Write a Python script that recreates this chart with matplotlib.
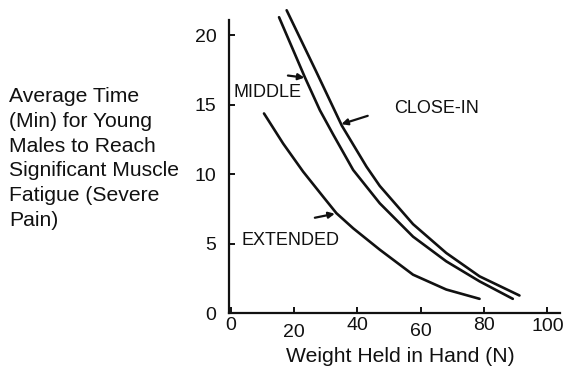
import matplotlib
matplotlib.use("Agg")
import matplotlib.pyplot as plt
from matplotlib.transforms import ScaledTranslation

plt.rcParams['font.family'] = ['Liberation Sans', 'DejaVu Sans']

# Endurance curves: time to significant fatigue vs. weight held in hand
close_in_x = [17.7, 27.0, 35.1, 42.9, 47.1, 57.6, 68.1, 78.6, 91.2]
close_in_y = [21.8, 17.4, 13.5, 10.54, 9.15, 6.4, 4.32, 2.64, 1.26]

middle_x = [15.3, 23.5, 28.2, 32.4, 38.7, 47.1, 57.6, 68.1, 78.6, 89.1]
middle_y = [21.3, 16.95, 14.6, 12.85, 10.3, 7.9, 5.5, 3.72, 2.28, 1.02]

extended_x = [10.55, 16.6, 22.9, 29.2, 33.4, 38.7, 47.1, 57.6, 68.1, 78.6]
extended_y = [14.37, 12.2, 10.18, 8.38, 7.19, 6.1, 4.56, 2.76, 1.69, 1.02]

x_ticks = [0, 20, 40, 60, 80, 100]
y_ticks = [0, 5, 10, 15, 20]

ylabel_text = ("Average Time\n(Min) for Young\nMales to Reach\n"
               "Significant Muscle\nFatigue (Severe\nPain)")
xlabel_text = "Weight Held in Hand (N)"

ink = "#111111"

fig = plt.figure(figsize=(5.70, 3.68), dpi=100)
ax = fig.add_axes([229 / 570, 55 / 368, 331 / 570, 293 / 368])

for xs, ys in [(close_in_x, close_in_y), (middle_x, middle_y), (extended_x, extended_y)]:
    ax.plot(xs, ys, color=ink, lw=1.9, solid_capstyle='round',
            solid_joinstyle='round', clip_on=False)

ax.set_xlim(-0.5, 104)
ax.set_ylim(0, 21.1)
ax.set_xticks(x_ticks)
ax.set_yticks(y_ticks)
ax.set_xticklabels([str(v) for v in x_ticks])
ax.set_yticklabels([str(v) for v in y_ticks])

for s in ['top', 'right']:
    ax.spines[s].set_visible(False)
for s in ['left', 'bottom']:
    ax.spines[s].set_linewidth(1.6)
    ax.spines[s].set_color(ink)

ax.tick_params(axis='both', direction='in', length=4, width=1.4, color=ink,
               labelsize=14, labelcolor=ink)
ax.tick_params(axis='y', pad=9)
ax.tick_params(axis='x', pad=3)

# staggered hand-lettered x tick labels
for lab, dy in zip(ax.get_xticklabels(), [0, -7, 0, -6, 0, -1]):
    lab.set_transform(lab.get_transform() + ScaledTranslation(0, dy / 100, fig.dpi_scale_trans))

# curve labels with leader arrows
ax.text(0.8, 15.85, "MIDDLE", fontsize=13, color=ink, va='center', ha='left')
ax.text(51.5, 14.7, "CLOSE-IN", fontsize=13, color=ink, va='center', ha='left')
ax.text(3.6, 5.25, "EXTENDED", fontsize=13, color=ink, va='center', ha='left')

arrow_style = dict(arrowstyle='-|>', color=ink, lw=1.6, mutation_scale=9,
                   shrinkA=0, shrinkB=0)
ax.annotate("", xy=(23.3, 16.95), xytext=(18.1, 17.1), arrowprops=arrow_style)
ax.annotate("", xy=(35.0, 13.6), xytext=(43.3, 14.2), arrowprops=arrow_style)
ax.annotate("", xy=(32.9, 7.15), xytext=(26.6, 6.86), arrowprops=arrow_style)

fig.text(9 / 570, 1 - 158.5 / 368, ylabel_text, fontsize=15.2, color=ink,
         ha='left', va='center', linespacing=1.38)
fig.text(400 / 570, 1 - 357 / 368, xlabel_text, fontsize=15.2, color=ink,
         ha='center', va='center')

fig.savefig("out.png", dpi=100, facecolor='white')
